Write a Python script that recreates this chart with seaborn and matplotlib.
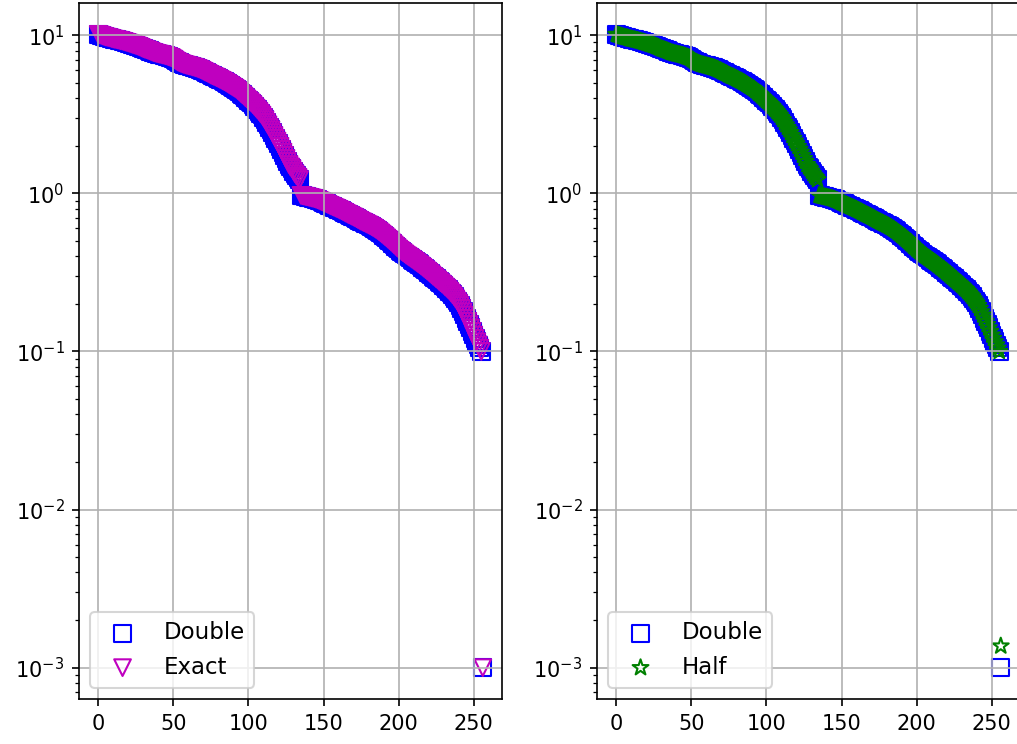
import numpy as np
import pandas as pd
import matplotlib
matplotlib.use("Agg")
import matplotlib.pyplot as plt
import seaborn as sns

# ---- data ----
double_vals = [
    10.12, 10.05, 9.98, 9.90, 9.82, 9.75, 9.70, 9.66, 9.60, 9.52, 9.46, 9.42, 9.38, 9.33, 9.28, 9.22,
    9.18, 9.12, 9.05, 9.00, 8.93, 8.88, 8.80, 8.74, 8.68, 8.62, 8.55, 8.48, 8.40, 8.31, 8.22, 8.16,
    8.10, 8.04, 7.97, 7.90, 7.82, 7.76, 7.71, 7.66, 7.62, 7.58, 7.54, 7.50, 7.46, 7.41, 7.36, 7.30,
    7.24, 7.18, 7.08, 6.97, 6.86, 6.77, 6.70, 6.64, 6.58, 6.53, 6.49, 6.45, 6.41, 6.38, 6.34, 6.30,
    6.26, 6.22, 6.17, 6.12, 6.06, 6.00, 5.93, 5.86, 5.80, 5.74, 5.67, 5.60, 5.54, 5.49, 5.44, 5.38,
    5.32, 5.26, 5.20, 5.14, 5.08, 5.02, 4.95, 4.88, 4.81, 4.75, 4.68, 4.62, 4.55, 4.46, 4.37, 4.28,
    4.20, 4.12, 4.03, 3.95, 3.87, 3.80, 3.72, 3.64, 3.55, 3.46, 3.38, 3.29, 3.20, 3.12, 3.02, 2.92,
    2.81, 2.71, 2.61, 2.52, 2.42, 2.32, 2.23, 2.14, 2.06, 1.98, 1.90, 1.82, 1.74, 1.66, 1.59, 1.52,
    1.47, 1.43, 1.38, 1.33, 1.29, 1.26, 1.22, 0.97, 0.965, 0.96, 0.955, 0.95, 0.945, 0.94, 0.935, 0.93,
    0.925, 0.918, 0.91, 0.902, 0.893, 0.884, 0.875, 0.866, 0.858, 0.849, 0.84, 0.832, 0.824, 0.816, 0.808, 0.80,
    0.792, 0.783, 0.775, 0.766, 0.757, 0.748, 0.739, 0.731, 0.724, 0.716, 0.708, 0.70, 0.691, 0.682, 0.674, 0.666,
    0.659, 0.652, 0.645, 0.638, 0.631, 0.624, 0.616, 0.608, 0.60, 0.591, 0.582, 0.572, 0.562, 0.552, 0.542, 0.532,
    0.522, 0.512, 0.502, 0.492, 0.482, 0.472, 0.462, 0.453, 0.444, 0.436, 0.428, 0.421, 0.414, 0.407, 0.401, 0.395,
    0.389, 0.383, 0.377, 0.371, 0.365, 0.359, 0.353, 0.347, 0.341, 0.335, 0.329, 0.323, 0.317, 0.311, 0.305, 0.299,
    0.294, 0.288, 0.283, 0.277, 0.272, 0.267, 0.262, 0.256, 0.251, 0.246, 0.240, 0.234, 0.228, 0.222, 0.215, 0.208,
    0.202, 0.195, 0.187, 0.178, 0.170, 0.162, 0.155, 0.148, 0.141, 0.134, 0.127, 0.121, 0.115, 0.110, 0.105, 0.100,
    0.001,
]
exact_vals = double_vals[:-1] + [0.001]
half_vals = double_vals[:-1] + [0.00137]
index = list(range(len(double_vals)))

series_left = [("Double", double_vals, "s", "blue"), ("Exact", exact_vals, "v", "m")]
series_right = [("Double", double_vals, "s", "blue"), ("Half", half_vals, "*", "green")]

# ---- figure ----
W, H, DPI = 1017, 744, 150
fig = plt.figure(figsize=(W / DPI, H / DPI), dpi=DPI)
ax1 = fig.add_axes([79 / W, 44.7 / H, 423 / W, 696.6 / H])
ax2 = fig.add_axes([597 / W, 44.7 / H, 423 / W, 696.6 / H])

for ax, series in ((ax1, series_left), (ax2, series_right)):
    for label, vals, mk, col in series:
        df = pd.DataFrame({"i": index, "v": vals})
        sns.scatterplot(data=df, x="i", y="v", marker=mk, s=64,
                        facecolors="none", edgecolor=col, color=col,
                        linewidth=1.0, label=label, ax=ax, legend=False)
    ax.set_yscale("log")
    ax.set_xlabel("")
    ax.set_ylabel("")
    ax.grid(True)
    ax.legend(loc="lower left", fontsize=11)

fig.savefig("out.png", dpi=DPI)
